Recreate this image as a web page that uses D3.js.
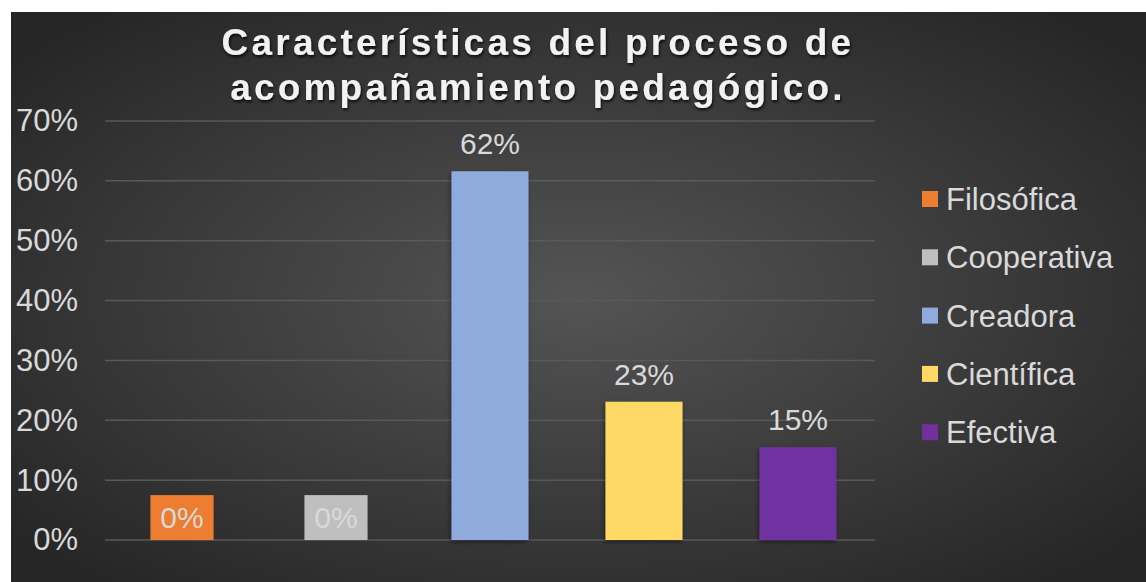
<!DOCTYPE html>
<html>
<head>
<meta charset="utf-8">
<script src="https://cdn.jsdelivr.net/npm/d3@7"></script>
<style>
  html, body { margin: 0; padding: 0; background: #fff; }
  svg { display: block; }
</style>
</head>
<body>
<svg id="chart" width="1146" height="582"></svg>
<script>
// chart data
const categories = ["Filosófica", "Cooperativa", "Creadora", "Científica", "Efectiva"];
const barHeights = [0.075, 0.075, 0.616, 0.231, 0.155];   // drawn height of each bar
const labelValues = [0, 0, 0.62, 0.23, 0.15];               // value printed on each bar
const colors = ["#ED7D31", "#BFBFBF", "#8FAADC", "#FFD966", "#7030A0"];
const yTicks = [0, 0.1, 0.2, 0.3, 0.4, 0.5, 0.6, 0.7];
const titleLines = ["Características del proceso de", "acompañamiento pedagógico."];

const width = 1146, height = 582;
const frame = { x: 11, y: 12, w: width - 11, h: height - 12 };
const plot = { left: 105, right: 875, top: 121, bottom: 540 };
const font = "Liberation Sans, Arial, sans-serif";

const svg = d3.select("#chart");
const defs = svg.append("defs");

// background gradient
const bg = defs.append("radialGradient")
  .attr("id", "bg")
  .attr("cx", "50%").attr("cy", "50%").attr("r", "65%");
bg.append("stop").attr("offset", "0%").attr("stop-color", "#545454");
bg.append("stop").attr("offset", "100%").attr("stop-color", "#262626");

const shadow = defs.append("filter").attr("id", "shadow")
  .attr("x", "-20%").attr("y", "-20%").attr("width", "140%").attr("height", "140%");
shadow.append("feDropShadow")
  .attr("dx", -1).attr("dy", 2).attr("stdDeviation", 2)
  .attr("flood-color", "#000").attr("flood-opacity", 0.45);

const titleShadow = defs.append("filter").attr("id", "tshadow")
  .attr("x", "-10%").attr("y", "-30%").attr("width", "120%").attr("height", "160%");
titleShadow.append("feDropShadow")
  .attr("dx", 1).attr("dy", 2).attr("stdDeviation", 1.5)
  .attr("flood-color", "#000").attr("flood-opacity", 0.8);

svg.append("rect")
  .attr("x", frame.x).attr("y", frame.y)
  .attr("width", frame.w).attr("height", frame.h)
  .attr("fill", "url(#bg)");

// scales
const x = d3.scaleBand()
  .domain(categories)
  .range([plot.left, plot.right])
  .paddingInner(0.5)
  .paddingOuter(0.25);

const y = d3.scaleLinear()
  .domain([0, 0.7])
  .range([plot.bottom, plot.top]);

// gridlines
svg.append("g")
  .selectAll("line")
  .data(yTicks)
  .enter()
  .append("line")
  .attr("x1", plot.left)
  .attr("x2", plot.right)
  .attr("y1", d => y(d))
  .attr("y2", d => y(d))
  .attr("stroke", "#595959")
  .attr("stroke-width", 1.5);

// y axis
const yAxis = svg.append("g")
  .attr("transform", `translate(${plot.left - 27},0)`)
  .call(d3.axisLeft(y).tickValues(yTicks).tickFormat(d3.format(".0%")).tickSize(0).tickPadding(0));
yAxis.select(".domain").remove();
yAxis.selectAll("text")
  .attr("fill", "#D9D9D9")
  .attr("font-family", font)
  .attr("font-size", "31px");

// bars (zero-valued ones are drawn a bit narrower, like the label boxes in the original)
const rows = categories.map((c, i) => ({ name: c, h: barHeights[i], v: labelValues[i], color: colors[i] }));
const barW = d => d.v === 0 ? x.bandwidth() * 0.82 : x.bandwidth();

svg.append("g")
  .selectAll("rect")
  .data(rows)
  .enter()
  .append("rect")
  .attr("x", d => x(d.name) + (x.bandwidth() - barW(d)) / 2)
  .attr("y", d => y(d.h))
  .attr("width", barW)
  .attr("height", d => y(0) - y(d.h))
  .attr("fill", d => d.color)
  .attr("filter", d => d.v === 0 ? null : "url(#shadow)");

// value labels
const pct = d3.format(".0%");
svg.append("g")
  .selectAll("text")
  .data(rows)
  .enter()
  .append("text")
  .attr("x", d => x(d.name) + x.bandwidth() / 2)
  .attr("y", d => d.v === 0 ? (y(d.h) + y(0)) / 2 : y(d.h) - 28)
  .attr("dy", "0.36em")
  .attr("text-anchor", "middle")
  .attr("fill", "#D9D9D9")
  .attr("font-family", font)
  .attr("font-size", "30px")
  .text(d => pct(d.v));

// legend
const legend = svg.append("g")
  .attr("transform", "translate(922,199)");
const items = legend.selectAll("g")
  .data(rows)
  .enter()
  .append("g")
  .attr("transform", (d, i) => `translate(0,${i * 58.3})`);
items.append("rect")
  .attr("x", 0).attr("y", -8)
  .attr("width", 16).attr("height", 16)
  .attr("fill", d => d.color);
items.append("text")
  .attr("x", 24)
  .attr("dy", "0.36em")
  .attr("fill", "#D9D9D9")
  .attr("font-family", font)
  .attr("font-size", "31px")
  .text(d => d.name);

// title
svg.append("g")
  .selectAll("text")
  .data(titleLines)
  .enter()
  .append("text")
  .attr("x", 538)
  .attr("y", (d, i) => 42 + i * 45)
  .attr("dy", "0.36em")
  .attr("text-anchor", "middle")
  .attr("fill", "#F2F2F2")
  .attr("font-family", font)
  .attr("font-weight", "bold")
  .attr("font-size", "37px")
  .attr("letter-spacing", "3.2px")
  .attr("filter", "url(#tshadow)")
  .text(d => d);
</script>
</body>
</html>
